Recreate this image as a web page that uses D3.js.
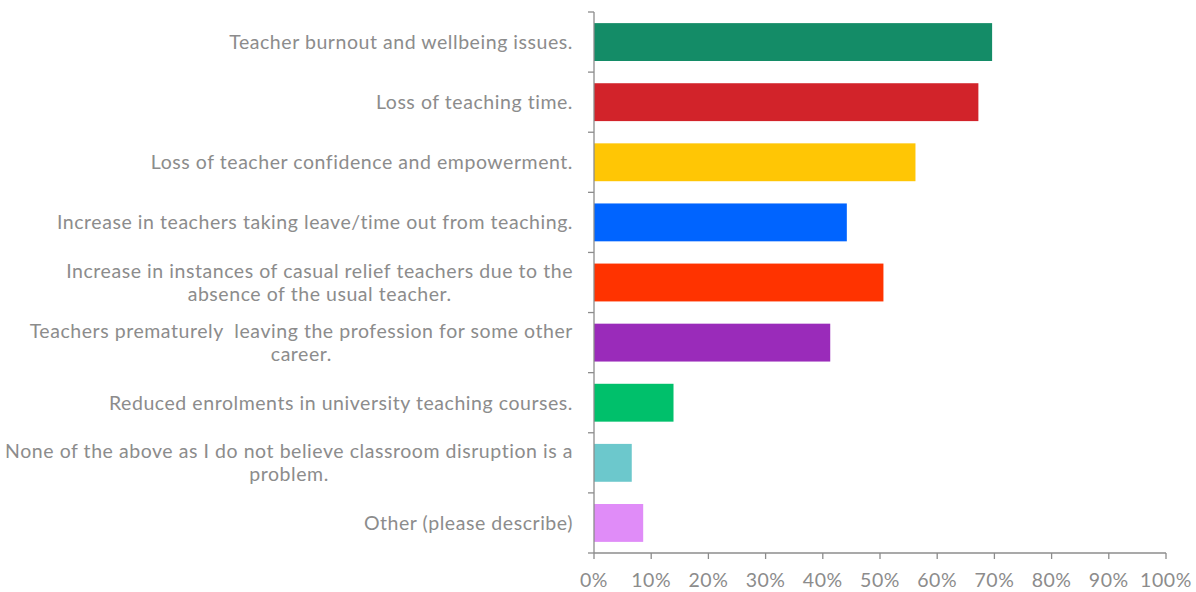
<!DOCTYPE html>
<html>
<head>
<meta charset="utf-8">
<script src="https://cdn.jsdelivr.net/npm/d3@7"></script>
<style>
  html, body { margin: 0; padding: 0; background: #fff; }
  svg { display: block; }
  text { font-family: Lato, "Open Sans", sans-serif; fill: #8c8c8c; white-space: pre; letter-spacing: 0.55px; }
</style>
</head>
<body>
<svg id="chart" width="1196" height="592"></svg>
<script>
// Responses (share of respondents), top to bottom
const categories = [
  "Teacher burnout and wellbeing issues.",
  "Loss of teaching time.",
  "Loss of teacher confidence and empowerment.",
  "Increase in teachers taking leave/time out from teaching.",
  "Increase in instances of casual relief teachers due to the\nabsence of the usual teacher.",
  "Teachers prematurely  leaving the profession for some other\ncareer.",
  "Reduced enrolments in university teaching courses.",
  "None of the above as I do not believe classroom disruption is a\nproblem.",
  "Other (please describe)"
];
const values = [0.696, 0.672, 0.562, 0.442, 0.506, 0.413, 0.139, 0.066, 0.086];
const barColors = ["#148c67", "#d2232a", "#ffc605", "#0064ff", "#ff3300", "#9a2bba", "#00c06b", "#6cc8cc", "#e08cf8"];
const xTicks = [0, 0.1, 0.2, 0.3, 0.4, 0.5, 0.6, 0.7, 0.8, 0.9, 1.0];

const svg = d3.select("#chart");
const margin = { top: 12, right: 30, bottom: 39, left: 594 };
const W = 1196, H = 592;
const fontSize = 19.5;

const x = d3.scaleLinear().domain([0, 1]).range([margin.left, W - margin.right]);
const y = d3.scaleBand().domain(d3.range(categories.length))
  .range([margin.top, H - margin.bottom]).paddingInner(0.37).paddingOuter(0.185);

// Bars
svg.append("g").selectAll("rect")
  .data(values)
  .join("rect")
  .attr("x", x(0))
  .attr("y", (d, i) => y(i))
  .attr("width", d => x(d) - x(0))
  .attr("height", y.bandwidth())
  .attr("fill", (d, i) => barColors[i]);

// Category axis: ticks on band boundaries, labels centred on each band
const yTop = margin.top, yBot = H - margin.bottom;
const gy = svg.append("g");
gy.append("line").attr("x1", x(0)).attr("x2", x(0)).attr("y1", yTop).attr("y2", yBot)
  .attr("stroke", "#8c8c8c").attr("stroke-width", 1.3);
gy.selectAll("line.tick")
  .data(d3.range(categories.length + 1))
  .join("line").attr("class", "tick")
  .attr("x1", x(0) - 6).attr("x2", x(0))
  .attr("y1", i => yTop + i * (yBot - yTop) / categories.length)
  .attr("y2", i => yTop + i * (yBot - yTop) / categories.length)
  .attr("stroke", "#8c8c8c").attr("stroke-width", 1.3);

const lineH = 23;
gy.selectAll("text")
  .data(categories)
  .join("text")
  .attr("font-size", fontSize)
  .attr("text-anchor", "middle")
  .each(function (d, i) {
    const lines = d.split("\n");
    const cy = y(i) + y.bandwidth() / 2;
    const t = d3.select(this);
    lines.forEach((ln, k) => {
      t.append("tspan")
        .attr("y", cy + (k - (lines.length - 1) / 2) * lineH)
        .attr("dy", "0.35em")
        .text(ln);
    });
    // right-align the block to the axis, centre the lines within it
    const widths = [];
    t.selectAll("tspan").each(function () { widths.push(this.getComputedTextLength()); });
    const maxW = d3.max(widths);
    t.selectAll("tspan").attr("x", x(0) - 21 - maxW / 2);
  });

// Value axis
const gx = svg.append("g").attr("transform", `translate(0,${yBot})`);
gx.append("line").attr("x1", x(0)).attr("x2", x(1)).attr("stroke", "#8c8c8c").attr("stroke-width", 1.3);
gx.selectAll("line.tick").data(xTicks).join("line").attr("class", "tick")
  .attr("x1", d => x(d)).attr("x2", d => x(d)).attr("y1", 0).attr("y2", 6)
  .attr("stroke", "#8c8c8c").attr("stroke-width", 1.3);
gx.selectAll("text").data(xTicks).join("text")
  .attr("x", d => x(d)).attr("y", 34)
  .attr("text-anchor", "middle").attr("font-size", fontSize)
  .text(d3.format(".0%"));
</script>
</body>
</html>
